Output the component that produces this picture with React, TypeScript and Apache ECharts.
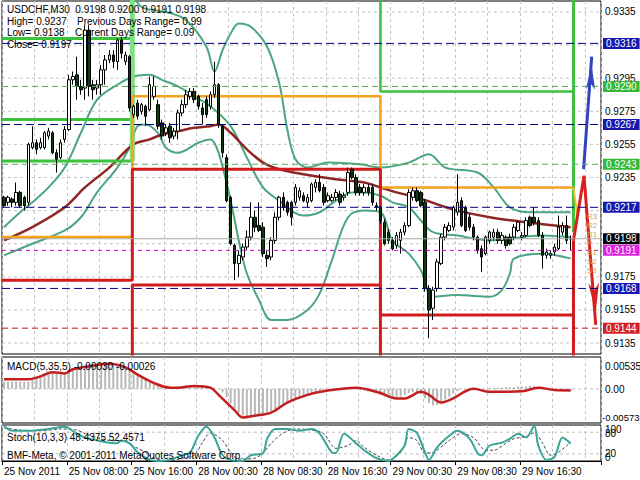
import React, { useEffect, useRef } from "react";
import * as echarts from "echarts";

const FONT = "'Liberation Sans', Arial, sans-serif";
const N_CAT = 148;

// [open, close, low, high]
const candles: number[][] = [
  [0.9223,0.9218,0.9217,0.9224],[0.9220,0.9223,0.9218,0.9224],[0.9222,0.9220,0.9217,0.9223],[0.9220,0.9226,0.9218,0.9232],
  [0.9226,0.9218,0.9217,0.9227],[0.9223,0.9218,0.9215,0.9224],[0.9220,0.9255,0.9218,0.9256],[0.9253,0.9256,0.9252,0.9266],
  [0.9256,0.9252,0.9249,0.9258],[0.9253,0.9256,0.9252,0.9259],[0.9253,0.9262,0.9252,0.9263],[0.9260,0.9263,0.9258,0.9265],
  [0.9262,0.9250,0.9249,0.9263],[0.9250,0.9246,0.9238,0.9252],[0.9247,0.9256,0.9246,0.9258],[0.9258,0.9264,0.9256,0.9266],
  [0.9264,0.9294,0.9263,0.9297],[0.9294,0.9296,0.9291,0.9299],[0.9297,0.9290,0.9282,0.9308],[0.9290,0.9288,0.9285,0.9294],
  [0.9289,0.9324,0.9282,0.9327],[0.9324,0.9290,0.9284,0.9327],[0.9291,0.9288,0.9282,0.9294],[0.9289,0.9291,0.9285,0.9294],
  [0.9291,0.9300,0.9285,0.9303],[0.9300,0.9306,0.9291,0.9309],[0.9306,0.9309,0.9304,0.9312],[0.9309,0.9305,0.9301,0.9312],
  [0.9305,0.9318,0.9300,0.9319],[0.9318,0.9310,0.9307,0.9320],[0.9305,0.9309,0.9303,0.9311],[0.9308,0.9277,0.9275,0.9309],
  [0.9273,0.9278,0.9271,0.9279],[0.9280,0.9272,0.9270,0.9282],[0.9275,0.9279,0.9273,0.9280],[0.9278,0.9272,0.9266,0.9279],
  [0.9276,0.9291,0.9275,0.9296],[0.9284,0.9290,0.9282,0.9296],[0.9279,0.9266,0.9264,0.9282],[0.9268,0.9260,0.9258,0.9270],
  [0.9262,0.9265,0.9260,0.9267],[0.9266,0.9259,0.9256,0.9268],[0.9260,0.9263,0.9258,0.9265],[0.9263,0.9274,0.9258,0.9276],
  [0.9274,0.9279,0.9272,0.9282],[0.9279,0.9285,0.9277,0.9288],[0.9284,0.9287,0.9282,0.9289],[0.9287,0.9282,0.9280,0.9289],
  [0.9284,0.9278,0.9276,0.9285],[0.9277,0.9273,0.9267,0.9280],[0.9282,0.9273,0.9271,0.9284],[0.9278,0.9285,0.9276,0.9287],
  [0.9285,0.9291,0.9283,0.9305],[0.9291,0.9267,0.9265,0.9292],[0.9266,0.9250,0.9247,0.9267],[0.9247,0.9221,0.9220,0.9249],
  [0.9223,0.9195,0.9194,0.9224],[0.9194,0.9183,0.9173,0.9195],[0.9183,0.9188,0.9175,0.9191],[0.9187,0.9193,0.9185,0.9195],
  [0.9193,0.9199,0.9191,0.9203],[0.9199,0.9211,0.9197,0.9220],[0.9211,0.9205,0.9202,0.9215],[0.9206,0.9203,0.9202,0.9220],
  [0.9205,0.9189,0.9187,0.9208],[0.9188,0.9186,0.9181,0.9191],[0.9187,0.9197,0.9185,0.9199],[0.9197,0.9211,0.9195,0.9214],
  [0.9211,0.9223,0.9209,0.9224],[0.9223,0.9217,0.9215,0.9226],[0.9220,0.9214,0.9212,0.9221],[0.9220,0.9211,0.9206,0.9221],
  [0.9220,0.9229,0.9218,0.9231],[0.9223,0.9227,0.9221,0.9229],[0.9224,0.9221,0.9220,0.9226],[0.9220,0.9223,0.9217,0.9225],
  [0.9221,0.9231,0.9220,0.9232],[0.9229,0.9232,0.9226,0.9234],[0.9232,0.9227,0.9226,0.9237],[0.9229,0.9220,0.9218,0.9231],
  [0.9221,0.9224,0.9220,0.9226],[0.9221,0.9223,0.9220,0.9225],[0.9223,0.9226,0.9221,0.9228],[0.9225,0.9220,0.9218,0.9227],
  [0.9223,0.9224,0.9221,0.9226],[0.9226,0.9238,0.9224,0.9241],[0.9240,0.9235,0.9234,0.9241],[0.9235,0.9226,0.9224,0.9237],
  [0.9229,0.9226,0.9224,0.9231],[0.9226,0.9229,0.9224,0.9231],[0.9229,0.9226,0.9224,0.9231],[0.9229,0.9220,0.9218,0.9231],
  [0.9218,0.9217,0.9215,0.9220],[0.9217,0.9209,0.9207,0.9218],[0.9208,0.9195,0.9194,0.9210],[0.9202,0.9197,0.9195,0.9204],
  [0.9197,0.9192,0.9191,0.9199],[0.9194,0.9200,0.9192,0.9202],[0.9197,0.9202,0.9189,0.9204],[0.9202,0.9206,0.9200,0.9208],
  [0.9206,0.9226,0.9205,0.9228],[0.9223,0.9227,0.9221,0.9229],[0.9227,0.9221,0.9220,0.9229],[0.9226,0.9218,0.9217,0.9227],
  [0.9220,0.9168,0.9166,0.9222],[0.9168,0.9155,0.9138,0.9170],[0.9156,0.9167,0.9149,0.9169],[0.9168,0.9184,0.9166,0.9186],
  [0.9183,0.9199,0.9182,0.9201],[0.9199,0.9205,0.9197,0.9207],[0.9203,0.9206,0.9202,0.9208],[0.9205,0.9217,0.9203,0.9218],
  [0.9214,0.9220,0.9212,0.9237],[0.9221,0.9206,0.9205,0.9223],[0.9217,0.9203,0.9202,0.9218],[0.9211,0.9205,0.9203,0.9213],
  [0.9205,0.9199,0.9197,0.9207],[0.9199,0.9191,0.9189,0.9200],[0.9192,0.9187,0.9178,0.9194],[0.9189,0.9199,0.9188,0.9200],
  [0.9197,0.9202,0.9195,0.9203],[0.9199,0.9202,0.9197,0.9204],[0.9202,0.9197,0.9195,0.9204],[0.9197,0.9200,0.9195,0.9202],
  [0.9199,0.9194,0.9192,0.9200],[0.9199,0.9195,0.9194,0.9201],[0.9199,0.9205,0.9197,0.9207],[0.9203,0.9208,0.9202,0.9209],
  [0.9199,0.9200,0.9197,0.9202],[0.9200,0.9209,0.9199,0.9211],[0.9211,0.9206,0.9205,0.9212],[0.9211,0.9208,0.9206,0.9217],
  [0.9209,0.9200,0.9199,0.9211],[0.9200,0.9188,0.9180,0.9202],[0.9188,0.9190,0.9186,0.9192],[0.9188,0.9189,0.9186,0.9191],
  [0.9190,0.9193,0.9188,0.9195],[0.9192,0.9205,0.9191,0.9212],[0.9202,0.9206,0.9200,0.9208],[0.9206,0.9197,0.9195,0.9212],
  [0.9198,0.9198,0.9191,0.9200],
];

// overlay lines: [bar index, price]
const maBrown = [[0,0.9197],[7,0.9205],[15,0.9217],[20,0.9229],[26,0.9241],[32,0.9255],[36,0.9258],[39,0.9261],[43,0.9263],[47,0.9265],[51,0.9266],[53,0.9267],[56,0.9262],[60,0.9252],[64,0.9244],[68,0.9240],[74,0.9237],[82,0.9234],[89,0.9232],[93,0.9229],[97,0.9226],[102,0.9223],[108,0.9218],[112,0.9215],[120,0.9211],[129,0.9208],[140,0.9205]];
const bandUpper = [[31,0.9350],[34,0.9338],[40,0.9335],[45,0.9330],[50,0.9314],[52,0.9299],[54,0.9312],[56,0.9322],[58,0.9328],[61,0.9326],[65,0.9314],[68,0.9292],[70,0.9264],[72,0.9246],[75,0.9241],[80,0.9244],[88,0.9243],[93,0.9241],[100,0.9244],[105,0.9249],[109,0.9241],[117,0.9238],[121,0.9229],[125,0.9217],[130,0.9214],[140,0.9214]];
const bandMid = [[0,0.9205],[4,0.9214],[7,0.9220],[11,0.9229],[15,0.9241],[19,0.9262],[23,0.9282],[28,0.9291],[32,0.9296],[36,0.9297],[39,0.9294],[43,0.9290],[47,0.9284],[51,0.9278],[56,0.9266],[60,0.9247],[64,0.9229],[68,0.9221],[74,0.9212],[78,0.9214],[82,0.9221],[86,0.9226],[89,0.9226],[93,0.9224],[96,0.9220],[100,0.9217],[103,0.9209],[106,0.9202],[112,0.9200],[120,0.9197],[133,0.9200],[140,0.9199]];
const bandLower = [[0,0.9188],[7,0.9195],[15,0.9203],[19,0.9211],[23,0.9226],[28,0.9241],[31,0.9253],[33,0.9266],[35,0.9267],[38,0.9262],[40,0.9253],[43,0.9250],[48,0.9256],[51,0.9258],[53,0.9250],[56,0.9221],[58,0.9197],[60,0.9177],[63,0.9161],[66,0.9149],[70,0.9149],[75,0.9155],[78,0.9165],[81,0.9185],[85,0.9211],[89,0.9215],[93,0.9214],[96,0.9197],[100,0.9189],[103,0.9179],[106,0.9163],[112,0.9164],[120,0.9163],[123,0.9167],[125,0.9177],[126,0.9186],[133,0.9189],[140,0.9186]];

const macdHist = [
  0.0012,0.0012,0.0012,0.0012,0.0012,0.0012,0.0012,0.0015,0.0019,0.0022,0.0025,0.0026,0.0026,0.0025,0.0024,0.0026,
  0.0029,0.0032,0.0035,0.0037,0.0040,0.0042,0.0041,0.0040,0.0039,0.0040,0.0041,0.0042,0.0042,0.0041,0.0038,0.0035,
  0.0030,0.0026,0.0022,0.0018,0.0014,0.0011,0.0008,0.0005,0.0004,0.0003,0.0003,0.0004,0.0005,0.0006,0.0006,0.0006,
  0.0005,0.0004,0.0003,0.0003,0.0002,0.0000,-0.0006,-0.0014,-0.0024,-0.0033,-0.0040,-0.0045,-0.0047,-0.0046,-0.0044,-0.0043,
  -0.0042,-0.0041,-0.0038,-0.0034,-0.0030,-0.0026,-0.0023,-0.0021,-0.0018,-0.0015,-0.0013,-0.0011,-0.0009,-0.0007,-0.0005,-0.0004,
  -0.0003,-0.0002,-0.0002,-0.0001,-0.0001,0.0000,0.0000,-0.0001,-0.0002,-0.0003,-0.0004,-0.0005,-0.0007,-0.0010,-0.0013,-0.0015,
  -0.0016,-0.0015,-0.0013,-0.0010,-0.0007,-0.0006,-0.0007,-0.0009,-0.0016,-0.0024,-0.0028,-0.0027,-0.0023,-0.0018,-0.0013,-0.0008,
  -0.0004,-0.0001,0.0001,0.0002,0.0002,0.0001,0.0000,0.0000,0.0001,0.0002,0.0002,0.0002,0.0003,0.0003,0.0003,0.0004,
  0.0004,0.0004,0.0005,0.0005,0.0004,0.0003,0.0002,0.0001,0.0000,-0.0001,-0.0002,-0.0003,-0.0003,
];
const macdSignal = [[0,0.0016],[6,0.0016],[9,0.0021],[12,0.0028],[15,0.0026],[17,0.0033],[21,0.0038],[26,0.0042],[30,0.0036],[33,0.0024],[37,0.0010],[41,0.0002],[43,0.0002],[47,0.0005],[51,0.0002],[53,-0.0010],[57,-0.0036],[59,-0.0048],[62,-0.0045],[66,-0.0040],[70,-0.0023],[75,-0.0010],[79,-0.0004],[87,0.0002],[93,-0.0007],[97,-0.0016],[99,-0.0016],[103,-0.0005],[105,-0.0010],[108,-0.0023],[111,-0.0016],[114,-0.0004],[116,0.0000],[120,-0.0005],[128,-0.0004],[132,0.0002],[136,-0.0002],[140,-0.00026]];

const stochMain = [[0,97],[2,84],[6,84],[11,89],[15,95],[18,76],[20,65],[23,57],[26,51],[28,49],[29,57],[31,49],[33,24],[34,16],[36,3],[38,0],[41,3],[44,16],[46,24],[48,70],[50,95],[52,65],[54,16],[56,3],[59,0],[61,16],[64,22],[65,62],[67,89],[70,89],[73,84],[76,89],[78,76],[81,24],[82,22],[84,76],[87,49],[89,30],[92,8],[95,0],[97,16],[99,43],[100,89],[102,78],[104,24],[105,3],[107,38],[110,70],[112,84],[115,62],[117,22],[118,16],[120,43],[123,51],[125,62],[127,76],[129,65],[131,97],[132,43],[134,3],[136,11],[138,65],[140,48.4375]];
const stochSignal = [[0,92],[4,86],[9,84],[14,89],[18,86],[20,76],[23,65],[26,57],[30,54],[32,41],[35,24],[37,8],[41,0],[44,8],[47,16],[49,51],[51,78],[54,57],[56,24],[58,5],[62,8],[64,22],[66,49],[69,78],[72,89],[76,86],[79,76],[82,35],[85,43],[87,57],[89,38],[92,16],[95,3],[98,24],[100,65],[102,57],[104,22],[106,24],[110,57],[113,76],[116,65],[119,30],[121,30],[124,49],[126,62],[129,68],[131,78],[133,51],[135,16],[137,24],[140,52.4571]];

const tickIdx = [0,16,32,48,64,80,96,112,128];
const tickLabels = ["25 Nov 2011","25 Nov 08:00","25 Nov 16:00","28 Nov 00:30","28 Nov 08:30","28 Nov 16:30","29 Nov 00:30","29 Nov 08:30","29 Nov 16:30"];

const priceGrid = [0.9335,0.9315,0.9295,0.9275,0.9255,0.9235,0.9215,0.9195,0.9175,0.9155,0.9135];
const priceGridShown = [true,false,true,true,true,true,false,false,true,true,true];
const levelValues = [0.9316,0.9290,0.9267,0.9243,0.9217,0.9198,0.9191,0.9168,0.9144];
const levelKinds = ["blue","green","blue","green","blue","bid","magenta","blue","red"];

// daily range step lines
const dayBounds = [-0.5, 31.7, 93, 140.7];
const greenA = [0.9319, 0.9270, 0.9245];
const greenC = 0.9287;
const orangeLv = [0.9199, 0.9284, 0.9229];
const redUpperLv = [0.9173, 0.9240, 0.9152];
const redLowerB = 0.9170;
const offTop = 0.9350;
const offBottom = 0.9120;
const endGreenTo = 0.9202;
const zigBlue = [[143.2, 0.9240], [145.2, 0.9308]];
const zigRed = [[140.7, 0.9197], [143.3, 0.9236], [146.2, 0.9146]];
const zigOrange = [[140.7, 0.9229], [141.6, 0.9213]];
const pivotNames = ["R3", "R2", "R1", "P", "S1", "S2", "S3"];

const KIND_STYLE: Record<string, { line: string; type: any; bg: string; fg: string }> = {
  blue: { line: "#000080", type: [8, 4], bg: "#1818B0", fg: "#fff" },
  green: { line: "#5DA85D", type: [6, 4], bg: "#36B836", fg: "#fff" },
  bid: { line: "#A8A8A8", type: "solid", bg: "#000", fg: "#fff" },
  magenta: { line: "#D000D0", type: [4, 4], bg: "#E020E0", fg: "#fff" },
  red: { line: "#C01010", type: [6, 4], bg: "#D42020", fg: "#fff" },
};

export default function App() {
  const ref = useRef<HTMLDivElement>(null);
  useEffect(() => {
    if (!ref.current) return;
    const chart = echarts.init(ref.current, undefined, { renderer: "svg" });
    const cats = Array.from({ length: N_CAT }, (_, i) => String(i));
    const vInt = (i: number) => i % 8 === 0;
    const gridLine = { show: true, interval: vInt, lineStyle: { color: "#C4C4C4", type: [3, 3] as any, width: 1 } };
    const hiddenCat = (g: number) => ({
      type: "category", gridIndex: g, data: cats, boundaryGap: true,
      axisLine: { show: false }, axisTick: { show: false }, axisLabel: { show: false }, splitLine: gridLine,
    });
    const overlayX = (g: number) => ({ type: "value", gridIndex: g, min: -0.5, max: N_CAT - 0.5, show: false, splitLine: { show: false } });

    const [b0, b1, b2, b3] = dayBounds;
    const stepLine = (data: number[][], color: string, width: number, z = 2) => ({
      type: "line", xAxisIndex: 1, yAxisIndex: 0, data, symbol: "none", z, silent: true,
      lineStyle: { color, width },
    });
    const steps: any[] = [];
    greenA.forEach((g) => steps.push(stepLine([[b0, g], [b1, g], [b1, offTop]], "#3CC23C", 3)));
    steps.push(stepLine([[b1, Math.min(...greenA)], [b1, offTop]], "#7EE07E", 5));
    steps.push(stepLine([[b2, offTop], [b2, greenC], [b3, greenC]], "#3CC23C", 2.5));
    steps.push(stepLine([[b3, offTop], [b3, endGreenTo]], "#3CC23C", 3));
    steps.push(stepLine([[b0, orangeLv[0]], [b1, orangeLv[0]], [b1, orangeLv[1]], [b2, orangeLv[1]], [b2, orangeLv[2]], [b3, orangeLv[2]]], "#F2A21E", 2.5));
    steps.push(stepLine(zigOrange, "#E8C040", 2));
    steps.push(stepLine([[b0, redUpperLv[0]], [b1, redUpperLv[0]], [b1, redUpperLv[1]], [b2, redUpperLv[1]], [b2, redUpperLv[2]], [b3, redUpperLv[2]]], "#D21C1C", 3));
    steps.push(stepLine([[b1, offBottom], [b1, redLowerB], [b2, redLowerB], [b2, offBottom]], "#D21C1C", 3));
    steps.push(stepLine([[b3, offBottom], [b3, zigRed[0][1]]], "#D21C1C", 3));

    const blueData: any[] = zigBlue.map((p, i) =>
      i === zigBlue.length - 1 ? { value: p, symbol: "arrow", symbolSize: [7, 24], symbolRotate: -3, symbolOffset: [0, 9] } : { value: p, symbol: "none" });
    const redData: any[] = zigRed.map((p, i) =>
      i === zigRed.length - 1 ? { value: p, symbol: "arrow", symbolSize: [8, 30], symbolRotate: 184, symbolOffset: [0, -12] } : { value: p, symbol: "none" });

    // horizontal price lines drawn as two-point line series with an end label
    const hLine = (v: number, lineStyle: any, label: any, z: number) => ({
      type: "line", xAxisIndex: 1, yAxisIndex: 0, data: [[-0.5, v], [N_CAT - 0.5, v]],
      symbol: "none", z, silent: true, lineStyle,
      endLabel: label
        ? { show: true, formatter: () => v.toFixed(4), fontSize: 10, fontFamily: FONT, ...label }
        : { show: false },
    });
    const gridSeries = priceGrid.map((v, i) =>
      hLine(v, { color: "#C4C4C4", type: [3, 3], width: 1 }, priceGridShown[i] ? { color: "#000", distance: 4 } : null, 1));
    const levelSeries = levelValues.map((v, i) => {
      const s = KIND_STYLE[levelKinds[i]];
      return hLine(v, { color: s.line, type: s.type, width: 1 },
        { color: s.fg, backgroundColor: s.bg, padding: [1, 3, 0, 3], distance: 2 }, 4);
    });

    const txt = (text: string, x: number, y: number, extra: any = {}) => ({
      type: "text", x, y, z: 100, silent: true,
      style: { text, fill: "#000", fontSize: 10, fontFamily: FONT, verticalAlign: "middle", ...extra },
    });

    const option: any = {
      animation: false,
      backgroundColor: "#fff",
      grid: [
        { left: 2, right: 39, top: 1, height: 353, show: true, borderColor: "#000", borderWidth: 1 },
        { left: 2, right: 39, top: 357, height: 66, show: true, borderColor: "#000", borderWidth: 1 },
        { left: 2, right: 39, top: 425, height: 36, show: true, borderColor: "#000", borderWidth: 1 },
      ],
      xAxis: [
        hiddenCat(0),
        overlayX(0),
        hiddenCat(1),
        {
          type: "category", gridIndex: 2, data: cats, boundaryGap: true,
          axisLine: { show: true, lineStyle: { color: "#000" } },
          axisTick: { show: true, interval: (i: number) => tickIdx.includes(i), length: 4, lineStyle: { color: "#000" } },
          axisLabel: {
            show: true, interval: (i: number) => tickIdx.includes(i), align: "left", margin: 5,
            color: "#000", fontSize: 10, fontFamily: FONT,
            formatter: (_v: string, i: number) => { const k = tickIdx.indexOf(i); return k >= 0 ? tickLabels[k] : ""; },
          },
          splitLine: gridLine,
        },
        overlayX(1),
        overlayX(2),
      ],
      yAxis: [
        { type: "value", gridIndex: 0, min: 0.91284, max: 0.93416, show: false, splitLine: { show: false } },
        { type: "value", gridIndex: 1, min: -0.00573, max: 0.00535, show: false, splitLine: { show: false } },
        { type: "value", gridIndex: 2, min: 0, max: 100, show: false, splitLine: { show: false } },
      ],
      series: [
        ...gridSeries,
        {
          type: "line", xAxisIndex: 1, yAxisIndex: 0, data: bandUpper, symbol: "none", smooth: 0.35, z: 2,
          lineStyle: { color: "#4AA582", width: 2 },
        },
        {
          type: "line", xAxisIndex: 1, yAxisIndex: 0, data: bandMid, symbol: "none", smooth: 0.35, z: 2,
          lineStyle: { color: "#4AA582", width: 2 },
        },
        {
          type: "line", xAxisIndex: 1, yAxisIndex: 0, data: bandLower, symbol: "none", smooth: 0.35, z: 2,
          lineStyle: { color: "#4AA582", width: 2 },
        },
        {
          type: "line", xAxisIndex: 1, yAxisIndex: 0, data: maBrown, symbol: "none", smooth: 0.35, z: 2,
          lineStyle: { color: "#8E2626", width: 2.5 },
        },
        ...steps,
        {
          type: "line", xAxisIndex: 1, yAxisIndex: 0, data: blueData, symbol: "none", showSymbol: true, z: 2,
          lineStyle: { color: "#3444BE", width: 3 }, itemStyle: { color: "#3444BE" },
        },
        {
          type: "line", xAxisIndex: 1, yAxisIndex: 0, data: redData, symbol: "none", showSymbol: true, z: 2,
          lineStyle: { color: "#D82020", width: 3 }, itemStyle: { color: "#D82020" },
        },
        {
          type: "candlestick", xAxisIndex: 0, yAxisIndex: 0, data: candles, barWidth: 3, z: 3,
          itemStyle: { color: "#ffffff", color0: "#0E3A12", borderColor: "#000", borderColor0: "#000", borderWidth: 1 },
        },
        ...levelSeries,
        {
          type: "bar", xAxisIndex: 2, yAxisIndex: 1, data: macdHist, barWidth: 2, z: 2,
          itemStyle: { color: "#B8B8B8" },
        },
        {
          type: "line", xAxisIndex: 4, yAxisIndex: 1, data: [[-0.5, 0], [N_CAT - 0.5, 0]], symbol: "none", z: 1, silent: true,
          lineStyle: { color: "#BDBDBD", type: [3, 3], width: 1 },
        },
        {
          type: "line", xAxisIndex: 4, yAxisIndex: 1, data: macdSignal, symbol: "none", smooth: 0.35, z: 3,
          lineStyle: { color: "#C41E1E", width: 2.5 },
        },
        ...[80, 20].map((v) => ({
          type: "line", xAxisIndex: 5, yAxisIndex: 2, data: [[-0.5, v], [N_CAT - 0.5, v]], symbol: "none", z: 1, silent: true,
          lineStyle: { color: "#BDBDBD", type: [3, 3], width: 1 },
        })),
        {
          type: "line", xAxisIndex: 5, yAxisIndex: 2, data: stochSignal, symbol: "none", smooth: 0.3, z: 2,
          lineStyle: { color: "#444", width: 1, type: [3, 2] },
        },
        {
          type: "line", xAxisIndex: 5, yAxisIndex: 2, data: stochMain, symbol: "none", smooth: 0.3, z: 3,
          lineStyle: { color: "#3AA597", width: 2 },
        },
      ],
      graphic: [
        txt("USDCHF,M30  0.9198 0.9200 0.9191 0.9198", 7, 9),
        txt("High= 0.9237", 7, 21),
        txt("Previous Days Range= 0.99", 77, 21),
        txt("Low= 0.9138", 7, 32),
        txt("Current Days Range= 0.09", 75, 32),
        txt("Close= 0.9197", 7, 44),
        txt("MACD(5,35,5) -0.00030 -0.00026", 7, 366),
        txt("Stoch(10,3,3) 48.4375 52.4571", 7, 437),
        txt("BMF-Meta, \u00A9 2001-2011 MetaQuotes Software Corp.", 7, 455),
        txt("0.00535", 605, 366),
        txt("0.00", 605, 389),
        txt("-0.00573", 602, 417, { fontSize: 9.5 }),
        txt("100", 605, 429),
        txt("80", 605, 433),
        txt("20", 605, 453),
        txt("0", 605, 457),
        ...pivotNames.map((n, i) => txt(n, 587, 216 + i * 9, { fill: "#D9A24A", fontSize: 8 })),
      ],
    };
    chart.setOption(option);
    return () => chart.dispose();
  }, []);
  return <div ref={ref} style={{ position: "fixed", left: 0, top: 0, width: 640, height: 480 }} />;
}
